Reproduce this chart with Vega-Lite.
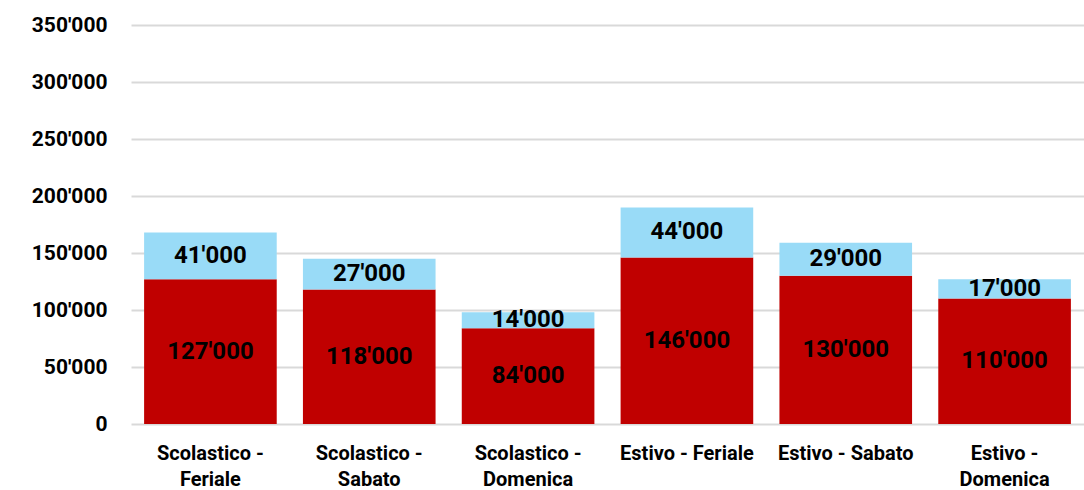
{
  "$schema": "https://vega.github.io/schema/vega-lite/v6.json",
  "width": 953,
  "height": 399,
  "autosize": {"type": "none"},
  "padding": {"left": 131, "top": 25, "right": 0, "bottom": 66},
  "background": "white",
  "config": {
    "locale": {"number": {"decimal": ".", "thousands": "'", "grouping": [3], "currency": ["", ""]}},
    "view": {"stroke": null},
    "font": "Roboto"
  },
  "data": {
    "values": [
      {"cat": "Scolastico - Feriale", "part": "base", "ord": 1, "value": 127000},
      {"cat": "Scolastico - Feriale", "part": "extra", "ord": 2, "value": 41000},
      {"cat": "Scolastico - Sabato", "part": "base", "ord": 1, "value": 118000},
      {"cat": "Scolastico - Sabato", "part": "extra", "ord": 2, "value": 27000},
      {"cat": "Scolastico - Domenica", "part": "base", "ord": 1, "value": 84000},
      {"cat": "Scolastico - Domenica", "part": "extra", "ord": 2, "value": 14000},
      {"cat": "Estivo - Feriale", "part": "base", "ord": 1, "value": 146000},
      {"cat": "Estivo - Feriale", "part": "extra", "ord": 2, "value": 44000},
      {"cat": "Estivo - Sabato", "part": "base", "ord": 1, "value": 130000},
      {"cat": "Estivo - Sabato", "part": "extra", "ord": 2, "value": 29000},
      {"cat": "Estivo - Domenica", "part": "base", "ord": 1, "value": 110000},
      {"cat": "Estivo - Domenica", "part": "extra", "ord": 2, "value": 17000}
    ]
  },
  "encoding": {
    "x": {
      "field": "cat", "type": "nominal", "sort": null,
      "scale": {"paddingInner": 0.165, "paddingOuter": 0.0825},
      "axis": {
        "title": null, "labelAngle": 0, "domain": false, "ticks": false,
        "labelFont": "Roboto", "labelFontWeight": "bold", "labelFontSize": 20, "labelColor": "#000000",
        "labelPadding": 19, "labelLineHeight": 26,
        "labelExpr": "datum.label == 'Estivo - Feriale' || datum.label == 'Estivo - Sabato' ? datum.label : split(replace(datum.label, ' - ', ' -|'), '|')"
      }
    },
    "order": {"field": "ord", "type": "quantitative"}
  },
  "layer": [
    {
      "mark": {"type": "bar"},
      "encoding": {
        "y": {
          "field": "value", "type": "quantitative", "stack": "zero",
          "scale": {"domain": [0, 350000]},
          "axis": {
            "title": null, "values": [0, 50000, 100000, 150000, 200000, 250000, 300000, 350000],
            "labelExpr": "format(datum.value, ',')",
            "domain": false, "ticks": false, "gridColor": "#d9d9d9", "gridWidth": 2,
            "labelFont": "Roboto", "labelFontWeight": "bold", "labelFontSize": 21, "labelColor": "#000000",
            "labelPadding": 24
          }
        },
        "color": {
          "field": "part", "type": "nominal",
          "scale": {"domain": ["base", "extra"], "range": ["#C00000", "#99DBF7"]},
          "legend": null
        }
      }
    },
    {
      "mark": {"type": "text", "font": "Roboto", "fontWeight": "bold", "fontSize": 24, "color": "#000000", "baseline": "middle"},
      "encoding": {
        "y": {
          "field": "value", "type": "quantitative", "stack": "zero", "bandPosition": 0.5,
          "scale": {"domain": [0, 350000]},
          "axis": {
            "title": null, "values": [0, 50000, 100000, 150000, 200000, 250000, 300000, 350000],
            "labelExpr": "format(datum.value, ',')",
            "domain": false, "ticks": false, "gridColor": "#d9d9d9", "gridWidth": 2,
            "labelFont": "Roboto", "labelFontWeight": "bold", "labelFontSize": 21, "labelColor": "#000000",
            "labelPadding": 24
          }
        },
        "text": {"field": "value", "type": "quantitative", "format": ","}
      }
    }
  ]
}
